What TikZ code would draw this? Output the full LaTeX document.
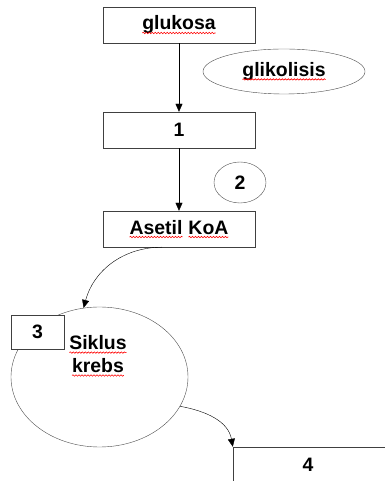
\documentclass[tikz,border=0pt]{standalone}
\usepackage{fontspec}
\setmainfont{Liberation Sans}
\usetikzlibrary{arrows.meta,shapes.geometric,positioning,decorations.pathmorphing}
% red wavy underline (spell check marks)
\newcommand\redwave[1]{\tikz[baseline=(w.base)]{\node[shape=rectangle,draw=none,fill=none,
        minimum width=0pt,minimum height=0pt,inner sep=0pt,outer sep=0pt] (w) {#1};
    \draw[red,line width=0.6bp,decorate,decoration={snake,amplitude=0.7bp,segment length=3bp}]
        ([yshift=-3bp]w.base west) -- ([yshift=-3bp]w.base east);}}

\begin{document}
\begin{tikzpicture}[x=1bp,y=1bp,
        every node/.style={font=\fontsize{19.5}{23}\selectfont\bfseries},
        box/.style={draw=black!75,minimum width=152bp,minimum height=36bp,inner sep=0pt},
        oval/.style={ellipse,draw=black!70,inner sep=0pt},
        flow/.style={-{Triangle[length=8bp,width=7bp]},black}]
    \useasboundingbox (0,0) rectangle (384,481);
    \node[box] (glukosa) at (179,456) {\redwave{glukosa}};
    \node[oval,minimum width=162bp,minimum height=45bp] (glikolisis) at (284,409.5) {\redwave{glikolisis}};
    \node[box] (satu) at (179,351) {1};
    \node[oval,minimum width=52bp,minimum height=41bp] (dua) at (240,298.5) {2};
    \node[box] (asetil) at (179,252) {\redwave{Asetil} \redwave{KoA}};
    \node[oval,minimum width=177bp,minimum height=140bp] (krebs) at (99.5,104) {};
    \node[box,fill=white,minimum width=53bp,minimum height=34bp] (tiga) at (37.5,149) {3};
    \node[align=center,inner sep=0pt] (krebstext) at (98,125) {\redwave{Siklus}\\\redwave{krebs}};
    % box 4 runs off the page: only its top and left sides show
    \node[box,draw=none,minimum width=150bp] (empat) at (308,16) {4};
    \draw[black!75] (empat.south west) -- (empat.north west) -- ([xshift=10bp]empat.north east);
    \draw[flow] (glukosa) -- (satu);
    \draw[flow] (satu) -- (asetil);
    \draw[flow] ([xshift=-17bp]asetil.south) to[out=180,in=75] (krebs.103);
    \draw[flow] (krebs.-20) to[out=-10,in=100] (empat.north west);
\end{tikzpicture}
\end{document}
